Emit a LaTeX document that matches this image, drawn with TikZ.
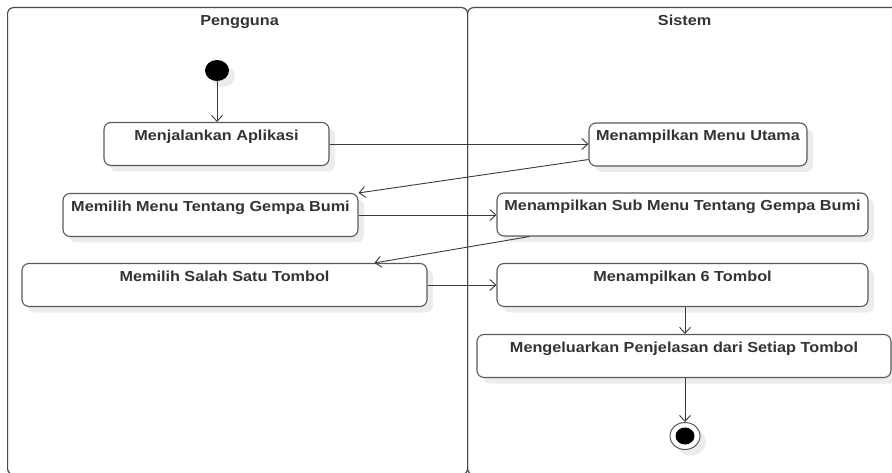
\documentclass[tikz,border=0pt]{standalone}
\usepackage{fontspec}
\setmainfont{Liberation Sans}[FakeStretch=1.12]
\usetikzlibrary{arrows.meta,shadows,shapes.geometric,calc}

\definecolor{laneline}{HTML}{4A4A4A}
\definecolor{boxline}{HTML}{5A5A5A}
\definecolor{wire}{HTML}{3A3A3A}
\definecolor{txt}{HTML}{333333}
\definecolor{shade}{HTML}{ECECEC}

\tikzset{
  lane/.style={draw=laneline, line width=1.2pt, rounded corners=6pt,
    anchor=north west, inner sep=0pt},
  lanehead/.style={anchor=base, text=txt,
    font=\bfseries\fontsize{14.5}{16}\selectfont},
  softshadow/.style={drop shadow={shadow xshift=6pt, shadow yshift=-6pt,
    fill=shade, opacity=1}},
  act/.style={draw=boxline, line width=1.1pt, rounded corners=7pt,
    fill=white, softshadow, text=txt,
    font=\bfseries\fontsize{14.5}{16}\selectfont,
    inner xsep=2pt, inner ysep=4pt, text height=14pt, text depth=21pt},
  initial/.style={ellipse, fill=black, inner sep=0pt,
    minimum width=24pt, minimum height=21pt, softshadow},
  final/.style={ellipse, draw=boxline, line width=1pt, fill=white,
    inner sep=0pt, minimum width=30pt, minimum height=27pt, softshadow,
    path picture={\fill[black] (path picture bounding box.center)
      ellipse [x radius=9.5pt, y radius=8.5pt];}},
  flow/.style={draw=wire, line width=0.9pt,
    -{Straight Barb[length=6pt, width=11pt, line width=0.9pt]}},
}

\begin{document}
\begin{tikzpicture}[x=1pt, y=-1pt]
\useasboundingbox (0,0) rectangle (892,473);
\clip (0,0) rectangle (892,473);

% swimlanes
\node[lane, minimum width=460pt, minimum height=467pt] (user) at (7,7) {};
\node[lane, minimum width=440pt, minimum height=467pt] (sys) at (467,7) {};
\node[lanehead] (userhead) at ($(user.north)+(2,19)$) {Pengguna};
\node[lanehead] (syshead) at ($(sys.north)+(-3,19)$) {Sistem};

% activities
\node[initial] (start) at (217,70.5) {};
\node[act, minimum width=225pt] (b1) at (216.5,144) {Menjalankan Aplikasi};
\node[act, minimum width=218pt] (b2) at (698,144.5) {Menampilkan Menu Utama};
\node[act, minimum width=295pt] (b3) at (210.5,215) {Memilih Menu Tentang Gempa Bumi};
\node[act, minimum width=371pt] (b4) at (682.5,214.5) {Menampilkan Sub Menu Tentang Gempa Bumi};
\node[act, minimum width=405pt] (b5) at (224.5,285) {Memilih Salah Satu Tombol};
\node[act, minimum width=371pt] (b6) at (682.5,285) {Menampilkan 6 Tombol};
\node[act, minimum width=414pt] (b7) at (684,356) {Mengeluarkan Penjelasan dari Setiap Tombol};
\node[final] (end) at (685,436) {};

% control flow
\draw[flow] (start) -- (b1.north -| start);
\draw[flow] (b1.east) -- (b2.west |- b1.east);
\draw[flow] ($(b2.south west)+(0,-7)$) -- (b3.north east);
\draw[flow] (b3.east) -- (b4.west |- b3.east);
\draw[flow] ($(b4.south west)+(33,0)$) -- ($(b5.north)+(150,0)$);
\draw[flow] (b5.east) -- (b6.west |- b5.east);
\draw[flow] (b6.south -| end) -- (b7.north -| end);
\draw[flow] (b7.south -| end) -- (end);
\end{tikzpicture}
\end{document}
